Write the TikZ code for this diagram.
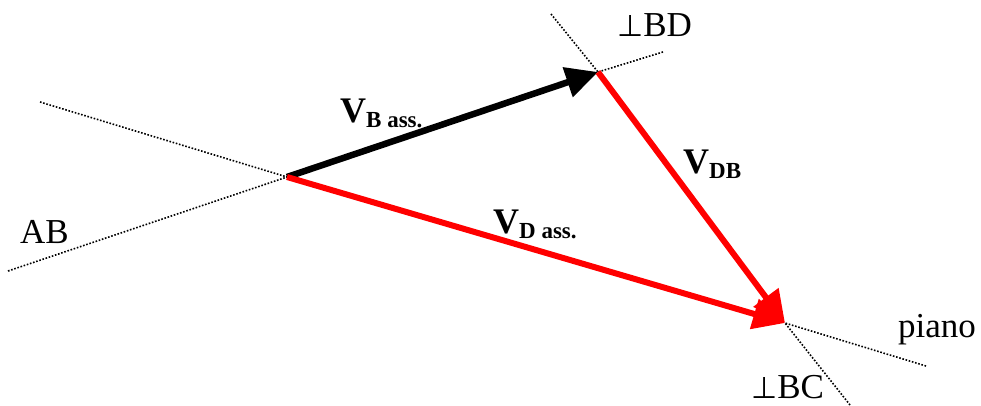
\documentclass[tikz,border=0pt]{standalone}
\usepackage{fontspec}
\setmainfont{Liberation Serif}
\newfontfamily\symfont{DejaVu Sans}
\usetikzlibrary{arrows.meta}

\newcommand{\vsub}[1]{\textbf{V}\raisebox{-5pt}{\fontsize{23}{24}\selectfont\bfseries #1}}
\newcommand{\perpsym}{{\symfont\fontsize{30}{30}\selectfont ⊥}}

\begin{document}
\begin{tikzpicture}[
  x=1pt, y=-1pt,
  guide/.style={line width=1.6pt, dash pattern=on 1.6pt off 1.7pt},
  vec/.style={line width=6pt, -{Triangle[length=32pt,width=30pt]}},
  lbl/.style={font=\fontsize{35}{40}\selectfont, inner sep=0pt, anchor=base west},
  vlbl/.style={font=\fontsize{36}{40}\selectfont, inner sep=0pt, anchor=base west},
]

\useasboundingbox (0,0) rectangle (981,405);

% ===== Points of the velocity triangle =========================================
\coordinate (O) at (287,177);
\coordinate (B) at (598,72);
\coordinate (D) at (785,323);

% Free ends of the dotted lines
\coordinate (oa) at (40,102);
\coordinate (ob) at (8,271);
\coordinate (ba) at (551,14);
\coordinate (bb) at (663,52);
\coordinate (da) at (926,366);
\coordinate (db) at (850,405);

% ===== Dotted directions ========================================================
\draw[guide] (oa) -- (O);
\draw[guide] (ob) -- (O);
\draw[guide] (ba) -- (B);
\draw[guide] (bb) -- (B);
\draw[guide] (da) -- (D);
\draw[guide] (db) -- (D);

% ===== Vectors ==================================================================
\draw[vec, black, line width=6.5pt] (O) -- (B);
\draw[vec, red] (O) -- (D);
\draw[vec, red] (B) -- (D);

% ===== Labels ===================================================================
\node[lbl] (ab) at (20,243) {AB};
\node[lbl] (pbd) at (617,36) {\perpsym BD};
\node[lbl] (pbc) at (751,398) {\perpsym BC};
\node[lbl] (piano) at (898,337) {piano};

\node[vlbl] (vb) at (340,122) {\vsub{B ass.}};
\node[vlbl] (vd) at (493,233) {\vsub{D ass.}};
\node[vlbl] (vdb) at (683,173) {\vsub{DB}};

\end{tikzpicture}
\end{document}
